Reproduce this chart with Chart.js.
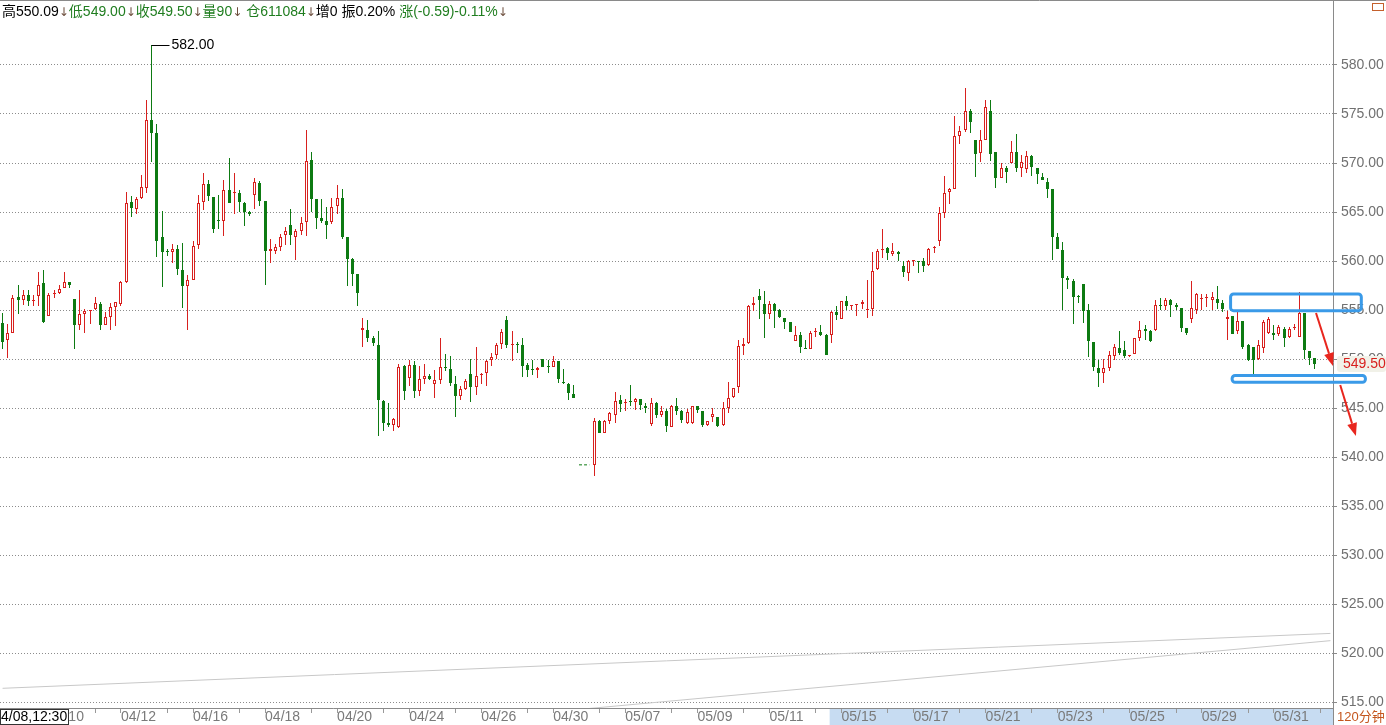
<!DOCTYPE html>
<html lang="zh-CN">
<head>
<meta charset="utf-8">
<title>120分钟 K线</title>
<script src="https://cdn.jsdelivr.net/npm/chart.js@4.4.1/dist/chart.umd.min.js"></script>
<style>
    html, body { margin: 0; padding: 0; background: #fff; }
    #wrap { position: relative; width: 1386px; height: 725px; }
</style>
</head>
<body>
<div id="wrap"><canvas id="kline"></canvas></div>
<script>
// 120분봉 캔들 데이터 (그림에서 읽은 값, 112~114 는 휴장 구간)
const openPrices = [
    553.7, 551.97, 552.7, 556.3, 556.0, 556.5, 555.9, 556.4, 557.75, 554.4,
    556.6, 556.7, 557.2, 557.9, 556.1, 553.5, 554.6, 554.9, 555.1, 555.6,
    553.5, 554.25, 555.3, 555.6, 557.9, 566.0, 565.3, 566.4, 567.4, 574.4,
    573.1, 562.5, 561.05, 560.95, 561.2, 559.1, 557.4, 558.1, 561.6, 566.0,
    567.9, 566.5, 564.2, 564.05, 567.25, 566.9, 566.95, 565.9, 565.0, 566.7,
    568.0, 566.1, 561.0, 561.05, 561.4, 562.7, 563.7, 562.5, 563.1, 563.95,
    570.3, 566.3, 564.4, 564.05, 563.95, 565.6, 566.4, 562.45, 560.2, 558.7,
    553.0, 553.0, 552.1, 551.4, 545.7, 543.5, 543.3, 543.05, 549.3, 548.05,
    549.4, 546.7, 548.0, 548.3, 547.5, 547.9, 549.2, 549.0, 547.5, 546.2,
    546.9, 548.5, 547.1, 548.4, 548.6, 549.9, 550.4, 551.5, 554.0, 551.4,
    551.5, 551.4, 549.4, 548.9, 548.9, 550.0, 549.3, 549.2, 549.8, 547.7,
    547.5, 546.45, null, null, null, 539.2, 543.7, 542.5, 543.7, 544.25,
    545.85, 545.5, 545.65, 545.6, 545.95, 545.25, 543.4, 545.5, 544.3, 544.7,
    543.1, 545.2, 544.7, 543.5, 543.5, 545.2, 544.7, 543.3, 544.1, 544.1,
    543.3, 545.0, 546.1, 547.1, 551.3, 551.6, 555.5, 556.45, 555.6, 554.6,
    555.6, 555.0, 554.2, 553.8, 551.8, 552.5, 551.15, 551.0, 552.75, 552.75,
    552.5, 552.45, 554.75, 554.1, 555.95, 555.4, 555.5, 555.65, 555.03, 555.1,
    559.2, 561.1, 561.3, 560.75, 560.95, 559.5, 558.8, 559.97, 560.0, 559.95,
    559.55, 561.3, 562.0, 564.9, 567.0, 567.35, 572.8, 573.35, 575.3, 572.3,
    571.0, 572.3, 575.35, 571.15, 568.45, 569.5, 570.05, 571.15, 569.5, 569.4,
    570.75, 569.5, 568.55, 568.1, 567.3, 562.5, 561.15, 558.3, 558.0, 556.45,
    557.7, 555.05, 551.75, 549.1, 548.6, 549.1, 550.35, 551.1, 550.95, 550.3,
    550.5, 552.1, 553.05, 552.9, 552.95, 555.5, 555.4, 556.0, 555.5, 555.25,
    553.2, 554.05, 555.05, 556.1, 556.2, 556.0, 556.1, 555.7, 554.05, 554.4,
    552.9, 553.9, 551.4, 551.2, 549.95, 551.1, 552.7, 552.7, 552.55, 553.1,
    552.2, 553.15, 552.2, 554.65, 550.8, 550.09
];
const highPrices = [
    554.7, 553.6, 556.5, 557.6, 557.0, 557.0, 556.5, 558.9, 559.1, 556.7,
    557.0, 557.55, 558.85, 557.9, 556.1, 557.05, 555.1, 555.05, 556.35, 555.8,
    554.8, 555.7, 555.85, 558.0, 567.0, 566.6, 566.5, 568.8, 576.4, 582.0,
    574.0, 565.1, 561.2, 561.7, 561.6, 561.8, 558.6, 562.0, 566.7, 569.0,
    568.3, 566.5, 566.7, 568.3, 570.5, 569.0, 567.2, 566.05, 565.1, 568.5,
    568.2, 566.1, 562.2, 561.7, 562.75, 563.5, 565.3, 563.3, 564.45, 573.4,
    571.1, 566.3, 566.3, 565.5, 566.4, 567.8, 567.35, 562.45, 560.3, 558.7,
    554.2, 553.95, 552.3, 552.9, 545.85, 545.5, 544.0, 549.5, 549.4, 549.9,
    549.8, 549.25, 549.5, 548.5, 548.9, 552.1, 550.5, 550.3, 548.3, 547.2,
    548.0, 550.0, 551.2, 548.6, 549.9, 550.6, 551.6, 553.1, 554.35, 552.9,
    551.7, 552.1, 549.6, 549.9, 549.2, 550.05, 549.9, 550.3, 549.8, 549.0,
    547.6, 547.3, null, null, null, 544.0, 543.8, 543.8, 544.55, 546.6,
    546.35, 545.9, 547.3, 546.0, 545.95, 545.5, 546.0, 545.6, 545.2, 544.9,
    545.3, 546.0, 544.8, 544.9, 545.2, 545.2, 544.7, 543.7, 545.0, 544.1,
    545.6, 547.7, 547.0, 551.9, 552.1, 555.5, 556.3, 557.1, 556.9, 555.95,
    555.7, 555.1, 554.2, 553.8, 553.4, 552.75, 551.9, 552.9, 553.2, 553.5,
    552.6, 554.9, 555.4, 555.95, 556.45, 555.55, 555.65, 556.05, 558.1, 560.9,
    561.2, 563.3, 561.4, 561.8, 561.0, 560.0, 560.1, 560.1, 560.0, 560.3,
    561.3, 561.5, 565.5, 568.7, 567.5, 574.75, 573.75, 577.7, 575.5, 572.3,
    573.4, 576.45, 576.45, 571.15, 570.0, 569.65, 572.2, 573.0, 570.85, 571.25,
    570.8, 569.5, 568.95, 568.45, 567.3, 562.9, 561.95, 558.45, 558.15, 556.55,
    557.7, 555.65, 551.75, 549.85, 550.0, 550.85, 551.5, 552.9, 551.8, 550.45,
    552.15, 553.9, 553.45, 552.95, 556.0, 556.2, 556.2, 556.1, 555.7, 555.25,
    553.2, 557.95, 556.7, 556.6, 556.6, 556.85, 557.4, 556.0, 554.85, 554.4,
    554.85, 553.9, 551.5, 551.2, 551.9, 554.0, 554.3, 553.5, 553.5, 553.25,
    553.25, 553.55, 556.85, 554.65, 550.8, 550.09
];
const lowPrices = [
    551.0, 550.1, 552.7, 554.6, 555.5, 555.4, 555.4, 555.4, 553.7, 554.35,
    556.2, 556.6, 557.2, 557.2, 551.0, 553.0, 552.65, 553.6, 555.0, 553.0,
    553.5, 553.0, 553.4, 555.4, 557.8, 564.5, 564.8, 566.3, 566.9, 570.1,
    560.4, 557.3, 560.5, 559.8, 558.6, 555.2, 553.0, 558.1, 561.2, 565.2,
    566.1, 562.9, 563.3, 562.6, 565.9, 564.8, 565.0, 563.6, 564.6, 565.3,
    565.6, 557.6, 559.8, 560.7, 561.05, 561.6, 561.6, 560.1, 562.65, 562.6,
    565.0, 563.3, 563.85, 562.2, 563.8, 564.8, 562.25, 557.4, 557.5, 555.4,
    551.2, 551.7, 551.3, 542.1, 542.7, 543.05, 542.7, 543.0, 545.85, 547.2,
    546.0, 546.2, 547.5, 547.9, 546.0, 547.5, 548.8, 547.2, 544.1, 545.8,
    546.8, 545.6, 546.3, 547.4, 547.2, 549.3, 550.0, 551.0, 551.1, 549.8,
    550.6, 548.2, 548.2, 548.4, 548.1, 549.2, 548.6, 549.15, 547.6, 547.5,
    545.8, 546.0, null, null, null, 538.1, 542.4, 542.45, 543.4, 543.5,
    544.55, 544.7, 545.2, 544.8, 544.8, 544.5, 543.2, 544.0, 544.1, 542.55,
    543.05, 544.3, 543.5, 543.4, 543.4, 544.5, 543.1, 543.2, 543.6, 543.1,
    543.2, 544.5, 546.0, 546.5, 550.4, 551.55, 554.9, 554.1, 552.15, 554.1,
    553.2, 554.2, 553.1, 552.75, 551.8, 550.6, 551.0, 551.0, 552.25, 552.3,
    550.4, 551.6, 554.0, 554.1, 555.0, 554.95, 554.35, 555.1, 554.15, 554.35,
    559.1, 560.3, 560.1, 560.55, 560.0, 558.35, 558.0, 559.45, 558.8, 558.9,
    559.45, 560.8, 561.5, 564.4, 565.85, 567.35, 571.95, 573.15, 573.1, 568.6,
    570.1, 572.3, 570.2, 567.4, 568.45, 568.0, 570.05, 569.05, 568.55, 569.0,
    568.7, 567.85, 568.3, 566.45, 560.15, 561.2, 555.0, 557.15, 553.55, 555.7,
    553.7, 550.25, 548.75, 547.15, 547.6, 548.75, 549.9, 550.45, 550.1, 550.2,
    550.5, 551.8, 551.9, 551.7, 552.9, 555.05, 555.05, 554.3, 555.05, 552.8,
    552.5, 553.65, 554.6, 555.05, 555.35, 555.05, 555.15, 554.75, 551.95, 552.55,
    552.55, 551.0, 549.8, 548.45, 549.9, 550.6, 552.6, 551.9, 552.35, 551.25,
    552.1, 553.0, 552.2, 550.05, 549.4, 549.0
];
const closePrices = [
    551.7, 552.65, 556.2, 556.0, 556.5, 555.9, 555.95, 557.55, 553.8, 556.5,
    556.7, 557.1, 557.9, 557.55, 553.5, 554.55, 554.85, 555.0, 555.7, 553.5,
    554.3, 555.3, 555.8, 557.9, 565.9, 565.4, 566.3, 567.6, 574.4, 573.1,
    562.0, 560.9, 560.95, 561.2, 559.2, 557.4, 558.1, 561.5, 565.9, 567.9,
    566.6, 563.3, 564.05, 567.2, 565.9, 566.95, 566.0, 565.0, 564.8, 568.1,
    566.1, 561.0, 561.2, 561.4, 562.4, 563.05, 562.7, 563.05, 563.9, 570.2,
    566.3, 564.4, 564.05, 563.7, 565.5, 566.4, 562.5, 560.25, 558.7, 556.7,
    553.2, 552.1, 551.6, 545.8, 543.5, 543.3, 543.9, 549.2, 546.7, 549.4,
    546.7, 548.0, 548.3, 548.0, 547.9, 549.2, 549.05, 547.6, 546.2, 546.9,
    547.8, 547.1, 548.3, 548.5, 549.8, 550.2, 551.4, 552.8, 551.4, 551.5,
    551.4, 549.3, 548.9, 548.85, 549.1, 549.2, 549.15, 549.8, 548.0, 547.6,
    546.5, 546.0, null, null, null, 543.7, 542.45, 543.7, 544.5, 545.7,
    545.4, 545.65, 545.6, 545.9, 545.3, 545.0, 545.5, 544.3, 544.7, 543.2,
    545.2, 544.65, 543.8, 544.55, 545.2, 544.75, 543.25, 543.7, 544.4, 543.2,
    545.0, 546.0, 547.0, 551.3, 551.5, 555.4, 555.75, 556.05, 554.6, 555.6,
    554.9, 554.25, 553.75, 552.75, 552.4, 551.2, 551.0, 552.65, 552.8, 552.5,
    550.4, 554.75, 554.45, 555.95, 555.45, 555.45, 555.55, 555.85, 555.1, 559.0,
    561.05, 561.2, 560.8, 561.0, 560.7, 558.85, 560.0, 560.03, 559.9, 559.5,
    561.2, 561.4, 564.85, 566.9, 567.3, 572.8, 573.3, 575.3, 574.15, 570.95,
    572.3, 575.75, 570.9, 568.45, 569.5, 569.05, 571.15, 569.5, 570.15, 570.7,
    569.55, 568.85, 568.3, 567.3, 562.5, 561.2, 558.3, 558.05, 556.3, 556.35,
    554.9, 551.8, 549.2, 548.6, 549.05, 550.45, 551.2, 550.6, 550.35, 550.45,
    552.15, 553.0, 552.85, 551.8, 555.5, 555.4, 556.0, 555.5, 555.35, 553.2,
    552.7, 555.25, 556.6, 556.2, 556.25, 556.35, 555.7, 555.15, 554.3, 552.55,
    553.9, 551.25, 549.9, 549.9, 551.4, 553.8, 554.05, 552.45, 553.25, 552.1,
    553.1, 553.25, 554.65, 550.9, 550.15, 549.5
];

// 축 설정값
const slotCount = 259;                 // 캔들 256개 + 오른쪽 빈칸
const dateTickSlots = [9, 23, 37, 51, 65, 79, 93, 107, 121, 135, 149, 163, 177, 191, 205, 219, 233, 247];
const dateTickLabels = ['04/10', '04/12', '04/16', '04/18', '04/20', '04/24', '04/26', '04/30', '05/07',
    '05/09', '05/11', '05/15', '05/17', '05/21', '05/23', '05/25', '05/29', '05/31'];
const minorTickSlots = [18, 32, 46, 60, 74, 88, 102, 116, 130, 144, 158, 172, 186, 200, 214, 228, 242, 256];
const yTickValues = [515, 520, 525, 530, 535, 540, 545, 550, 555, 560, 565, 570, 575, 580];

// 휴장 구간 점선, 장기 추세선 두 개
const gapSlots = [112, 113, 114];
const gapValues = [539.2, 539.2, 539.2];
const upperLineSlots = [0, 258];
const upperLineValues = [516.4, 522.0];
const lowerLineSlots = [110, 258];
const lowerLineValues = [514.15, 521.26];

// 상단 정보줄
const lastPrice = 549.50;
const headerParts = [
    ['高550.09', '#000000'], ['↓', 'arrow'], ['低549.00', '#1f7d1f'], ['↓', 'arrow'],
    ['收549.50', '#1f7d1f'], ['↓', 'arrow'], ['量90', '#1f7d1f'], ['↓', 'arrow'],
    [' 仓611084', '#1f7d1f'], ['↓', 'arrow'], ['增0 振0.20% ', '#000000'],
    ['涨(-0.59)-0.11%', '#1f7d1f'], ['↓', 'arrow']
];

// 사용자가 그린 표시 (슬롯, 가격 기준)
const markBoxes = [
    { from: 238.6, to: 264.0, top: 556.63, bottom: 554.93 },
    { from: 238.9, to: 264.8, top: 548.32, bottom: 547.63 }
];
const markArrows = [
    { x1: 255.2, y1: 554.69, x2: 258.5, y2: 549.29 },
    { x1: 259.9, y1: 547.35, x2: 262.95, y2: 542.14 }
];

const RED = '#d8201e';
const GREEN = '#0d7a12';
const FONT = '"Liberation Sans", Arial, "Noto Sans CJK SC", sans-serif';

Chart.defaults.font.family = FONT;
Chart.defaults.font.size = 14;

const labels = Array(slotCount).fill('');
dateTickSlots.forEach((s, i) => { labels[s] = dateTickLabels[i]; });
const tickSlotSet = new Set([...dateTickSlots, ...minorTickSlots]);

const isUp = i => closePrices[i] >= openPrices[i];
const bodyData = openPrices.map((o, i) => o == null ? null : [o, closePrices[i]]);
const wickData = lowPrices.map((l, i) => l == null ? null : [l, highPrices[i]]);
const bodyFill = openPrices.map((o, i) => isUp(i) ? '#ffffff' : GREEN);
const candleColor = openPrices.map((o, i) => isUp(i) ? RED : GREEN);

function sparse(slots, values) {
    const arr = Array(slotCount).fill(null);
    slots.forEach((s, i) => { arr[s] = values[i]; });
    return arr;
}

const decorPlugin = {
    id: 'klineDecor',
    afterDatasetsUpdate(chart) {
        // 캔들을 픽셀 격자에 맞춰 선명하게
        chart.data.datasets.forEach((ds, di) => {
            const meta = chart.getDatasetMeta(di);
            if (meta.type !== 'bar') return;
            meta.data.forEach(el => {
                if (el.skip || isNaN(el.x)) return;
                el.x = Math.floor(el.x) + 0.5;
                let top = Math.round(el.y), base = Math.round(el.base);
                if (top === base) base = top + 1;
                el.y = top;
                el.base = base;
            });
        });
    },
    beforeDraw(chart) {
        const { ctx, chartArea, scales } = chart;
        ctx.save();
        // 하단 스크롤 영역
        const bandLeft = scales.x.getPixelForValue(160.7);
        ctx.fillStyle = '#c7dcf2';
        ctx.fillRect(bandLeft, chartArea.bottom + 1, chartArea.right - bandLeft, chart.height - chartArea.bottom - 1);
        ctx.restore();
    },
    afterDraw(chart) {
        const { ctx, chartArea, scales } = chart;
        const xs = scales.x, ys = scales.y;
        ctx.save();

        // 테두리
        ctx.strokeStyle = '#8a8a8a';
        ctx.lineWidth = 1;
        ctx.beginPath();
        ctx.moveTo(0, 0.5); ctx.lineTo(chart.width, 0.5);
        ctx.moveTo(chartArea.right + 0.5, 0); ctx.lineTo(chartArea.right + 0.5, chart.height);
        ctx.moveTo(0, chartArea.bottom + 0.5); ctx.lineTo(chartArea.right, chartArea.bottom + 0.5);
        ctx.stroke();

        // 최고가 표시
        let hi = 0;
        highPrices.forEach((h, i) => { if (h != null && h > highPrices[hi]) hi = i; });
        const hx = Math.floor(xs.getPixelForValue(hi)) + 0.5;
        const hy = Math.round(ys.getPixelForValue(highPrices[hi])) + 0.5;
        ctx.strokeStyle = '#000';
        ctx.beginPath();
        ctx.moveTo(hx, hy); ctx.lineTo(hx + 18, hy);
        ctx.stroke();
        ctx.font = '14px ' + FONT;
        ctx.fillStyle = '#000';
        ctx.textBaseline = 'middle';
        ctx.fillText(highPrices[hi].toFixed(2), hx + 20, hy);

        // 상단 정보줄
        let tx = 2;
        headerParts.forEach(([text, color]) => {
            if (color === 'arrow') {
                ctx.font = '12px "DejaVu Sans", sans-serif';
                ctx.fillStyle = '#6b4c3b';
                ctx.fillText(text, tx, 13);
            } else {
                ctx.font = '14px ' + FONT;
                ctx.fillStyle = color;
                ctx.fillText(text, tx, 12);
            }
            tx += ctx.measureText(text).width;
        });

        // 현재가 라벨
        const ly = ys.getPixelForValue(lastPrice);
        ctx.fillStyle = '#f1f1e8';
        ctx.beginPath();
        ctx.roundRect(chartArea.right + 4, ly - 8, chart.width - chartArea.right - 4, 16, 3);
        ctx.fill();
        ctx.font = '14px ' + FONT;
        ctx.fillStyle = RED;
        ctx.fillText(lastPrice.toFixed(2), chartArea.right + 10, ly);

        // 좌하단 시간 박스
        ctx.fillStyle = '#fff';
        ctx.fillRect(0, chartArea.bottom + 1, 68, 16);
        ctx.strokeStyle = '#333';
        ctx.strokeRect(0.5, chartArea.bottom + 1.5, 68, 15);
        ctx.fillStyle = '#000';
        ctx.fillText('4/08,12:30', 1, chartArea.bottom + 9.5);

        // 주기 표시
        ctx.font = '13px ' + FONT;
        ctx.fillStyle = '#c4561e';
        ctx.fillText('120分钟', chartArea.right + 4, chartArea.bottom + 9.5);
        ctx.strokeStyle = '#c4602c';
        ctx.strokeRect(chart.width - 13.5, 3.5, 11, 7);

        // 파란 박스
        ctx.strokeStyle = '#3a9ae8';
        ctx.lineWidth = 3;
        markBoxes.forEach(b => {
            const x1 = xs.getPixelForValue(b.from), x2 = xs.getPixelForValue(b.to);
            const y1 = ys.getPixelForValue(b.top), y2 = ys.getPixelForValue(b.bottom);
            ctx.beginPath();
            ctx.roundRect(x1, y1, x2 - x1, y2 - y1, 3);
            ctx.stroke();
        });

        // 빨간 화살표
        ctx.strokeStyle = '#e8261e';
        ctx.fillStyle = '#e8261e';
        markArrows.forEach(a => {
            const x1 = xs.getPixelForValue(a.x1), y1 = ys.getPixelForValue(a.y1);
            const x2 = xs.getPixelForValue(a.x2), y2 = ys.getPixelForValue(a.y2);
            const ang = Math.atan2(y2 - y1, x2 - x1);
            const len = 13, half = 5;
            const bx = x2 - len * Math.cos(ang), by = y2 - len * Math.sin(ang);
            ctx.lineWidth = 2;
            ctx.beginPath();
            ctx.moveTo(x1, y1); ctx.lineTo(bx, by);
            ctx.stroke();
            ctx.beginPath();
            ctx.moveTo(x2, y2);
            ctx.lineTo(bx + half * Math.sin(ang), by - half * Math.cos(ang));
            ctx.lineTo(bx - half * Math.sin(ang), by + half * Math.cos(ang));
            ctx.closePath();
            ctx.fill();
        });

        ctx.restore();
    }
};

new Chart(document.getElementById('kline'), {
    type: 'bar',
    data: {
        labels: labels,
        datasets: [
            {
                label: 'body',
                data: bodyData,
                backgroundColor: bodyFill,
                borderColor: candleColor,
                borderWidth: 1,
                borderSkipped: false,
                barThickness: 3,
                minBarLength: 1,
                grouped: false,
                inflateAmount: 0,
                order: 0
            },
            {
                label: 'wick',
                data: wickData,
                backgroundColor: candleColor,
                borderWidth: 0,
                barThickness: 1,
                minBarLength: 1,
                grouped: false,
                inflateAmount: 0,
                order: 1
            },
            {
                type: 'line',
                label: 'gap',
                data: sparse(gapSlots, gapValues),
                borderColor: GREEN,
                borderWidth: 1,
                borderDash: [3, 2],
                pointRadius: 0,
                spanGaps: false,
                order: 2
            },
            {
                type: 'line',
                label: 'upper',
                data: sparse(upperLineSlots, upperLineValues),
                borderColor: '#c8c8c8',
                borderWidth: 1,
                pointRadius: 0,
                spanGaps: true,
                order: 3
            },
            {
                type: 'line',
                label: 'lower',
                data: sparse(lowerLineSlots, lowerLineValues),
                borderColor: '#c8c8c8',
                borderWidth: 1,
                pointRadius: 0,
                spanGaps: true,
                order: 3
            }
        ]
    },
    options: {
        responsive: true,
        maintainAspectRatio: false,
        animation: false,
        events: [],
        layout: { padding: { top: 1, left: 0, right: 0, bottom: 0 } },
        plugins: {
            legend: { display: false },
            tooltip: { enabled: false }
        },
        scales: {
            x: {
                type: 'category',
                offset: true,
                grid: {
                    display: true,
                    drawOnChartArea: false,
                    drawTicks: true,
                    offset: false,
                    tickLength: 5,
                    tickColor: ctx => tickSlotSet.has(ctx.index) ? '#999999' : 'rgba(0,0,0,0)'
                },
                border: { display: false },
                ticks: {
                    autoSkip: false,
                    maxRotation: 0,
                    minRotation: 0,
                    align: 'start',
                    padding: -4,
                    color: '#7a7a7a',
                    font: { size: 14 }
                },
                afterFit: s => { s.height = 17; s.paddingLeft = 0; s.paddingRight = 0; }
            },
            y: {
                position: 'right',
                min: 514.39,
                max: 586.53,
                afterBuildTicks: s => { s.ticks = yTickValues.map(v => ({ value: v })); },
                grid: {
                    color: '#8c8c8c',
                    lineWidth: 1,
                    drawTicks: true,
                    tickLength: 4,
                    tickColor: '#8a8a8a',
                    tickBorderDash: []
                },
                border: { display: false, dash: [1, 2] },
                ticks: {
                    padding: 4,
                    color: '#707070',
                    font: { size: 14 },
                    callback: v => Number(v).toFixed(2)
                },
                afterFit: s => { s.width = 53; s.paddingTop = 0; s.paddingBottom = 0; }
            }
        }
    },
    plugins: [decorPlugin]
});
</script>
</body>
</html>
